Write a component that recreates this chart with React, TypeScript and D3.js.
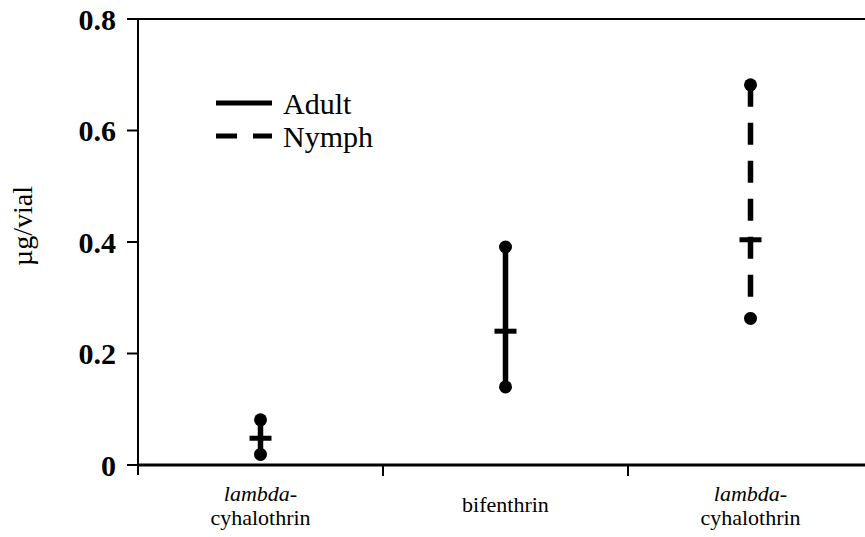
import * as d3 from "d3";
import { useEffect, useRef } from "react";

// categories along the x axis
const categories = ["lambda-cyhalothrin (adult)", "bifenthrin", "lambda-cyhalothrin (nymph)"];
const labelTop = ["lambda", "", "lambda"];
const labelBottom = ["cyhalothrin", "bifenthrin", "cyhalothrin"];
const stage = ["Adult", "Adult", "Nymph"];

// LC50 with 95% CI (µg/vial)
const lower = [0.019, 0.14, 0.263];
const mid = [0.048, 0.24, 0.404];
const upper = [0.081, 0.391, 0.682];

const yTicks = [0, 0.2, 0.4, 0.6, 0.8];

const serif = "'Times New Roman', 'Liberation Serif', Tinos, 'DejaVu Serif', 'Noto Serif', serif";

const App = () => {
  const ref = useRef<SVGSVGElement>(null);

  useEffect(() => {
    const svg = d3.select(ref.current);
    svg.selectAll("*").remove();

    const left = 138, top = 19, bottom = 465;
    const width = 735;

    const x = d3.scaleBand().domain(categories).range([left, left + width]);
    const y = d3.scaleLinear().domain([0, 0.8]).range([bottom, top]);

    const g = svg.append("g").style("font-family", serif);

    // frame: left axis, top line, bottom axis
    g.append("line")
      .attr("x1", left).attr("x2", left)
      .attr("y1", top).attr("y2", bottom + 10)
      .attr("stroke", "black").attr("stroke-width", 2);
    g.append("line")
      .attr("x1", left).attr("x2", 865)
      .attr("y1", top).attr("y2", top)
      .attr("stroke", "black").attr("stroke-width", 2);
    g.append("line")
      .attr("x1", left).attr("x2", 865)
      .attr("y1", bottom).attr("y2", bottom)
      .attr("stroke", "black").attr("stroke-width", 3);

    // y ticks + labels
    yTicks.forEach((t) => {
      g.append("line")
        .attr("x1", left - 11).attr("x2", left)
        .attr("y1", y(t)).attr("y2", y(t))
        .attr("stroke", "black").attr("stroke-width", 2);
      g.append("text")
        .attr("x", 116)
        .attr("y", y(t))
        .attr("dy", "0.35em")
        .attr("text-anchor", "end")
        .style("font-weight", "bold")
        .style("font-size", "30px")
        .text(t === 0 ? "0" : t.toFixed(1));
    });

    // category boundary ticks
    categories.forEach((c, i) => {
      if (i === 0) return;
      const xx = x(c)!;
      g.append("line")
        .attr("x1", xx).attr("x2", xx)
        .attr("y1", bottom).attr("y2", bottom + 11)
        .attr("stroke", "black").attr("stroke-width", 2);
    });

    // category labels
    categories.forEach((c, i) => {
      const cx = x(c)! + x.bandwidth() / 2;
      if (labelTop[i]) {
        g.append("text")
          .attr("x", cx).attr("y", 501)
          .attr("text-anchor", "middle")
          .style("font-size", "22px")
          .html(`<tspan font-style="italic">${labelTop[i]}</tspan>-`);
        g.append("text")
          .attr("x", cx).attr("y", 525)
          .attr("text-anchor", "middle")
          .style("font-size", "22px")
          .text(labelBottom[i]);
      } else {
        g.append("text")
          .attr("x", cx).attr("y", 512)
          .attr("text-anchor", "middle")
          .style("font-size", "22px")
          .text(labelBottom[i]);
      }
    });

    // y axis title
    g.append("text")
      .attr("transform", `translate(32, 226) rotate(-90)`)
      .attr("text-anchor", "middle")
      .style("font-size", "28px")
      .text("µg/vial");

    // CI bars
    categories.forEach((c, i) => {
      const cx = x(c)! + x.bandwidth() / 2;
      const dashed = stage[i] === "Nymph";
      g.append("line")
        .attr("x1", cx).attr("x2", cx)
        .attr("y1", y(upper[i])).attr("y2", y(lower[i]))
        .attr("stroke", "black").attr("stroke-width", 5.5)
        .attr("stroke-dasharray", dashed ? "22 16" : null);
      g.append("line")
        .attr("x1", cx - 11).attr("x2", cx + 11)
        .attr("y1", y(mid[i])).attr("y2", y(mid[i]))
        .attr("stroke", "black").attr("stroke-width", 5);
      [upper[i], lower[i]].forEach((v) => {
        g.append("circle")
          .attr("cx", cx).attr("cy", y(v)).attr("r", 6.5)
          .attr("fill", "black");
      });
    });

    // legend
    const legend = [
      { name: "Adult", dash: null, yy: 103 },
      { name: "Nymph", dash: "21 16", yy: 136 },
    ];
    legend.forEach((l) => {
      g.append("line")
        .attr("x1", 216).attr("x2", 272)
        .attr("y1", l.yy).attr("y2", l.yy)
        .attr("stroke", "black").attr("stroke-width", 5)
        .attr("stroke-dasharray", l.dash);
      g.append("text")
        .attr("x", 283).attr("y", l.yy)
        .attr("dy", "0.35em")
        .style("font-size", "30px")
        .text(l.name);
    });
  }, []);

  return (
    <svg
      ref={ref}
      width={865}
      height={537}
      style={{ position: "absolute", left: 0, top: 0, background: "white", fontFamily: serif }}
    />
  );
};

export default App;
